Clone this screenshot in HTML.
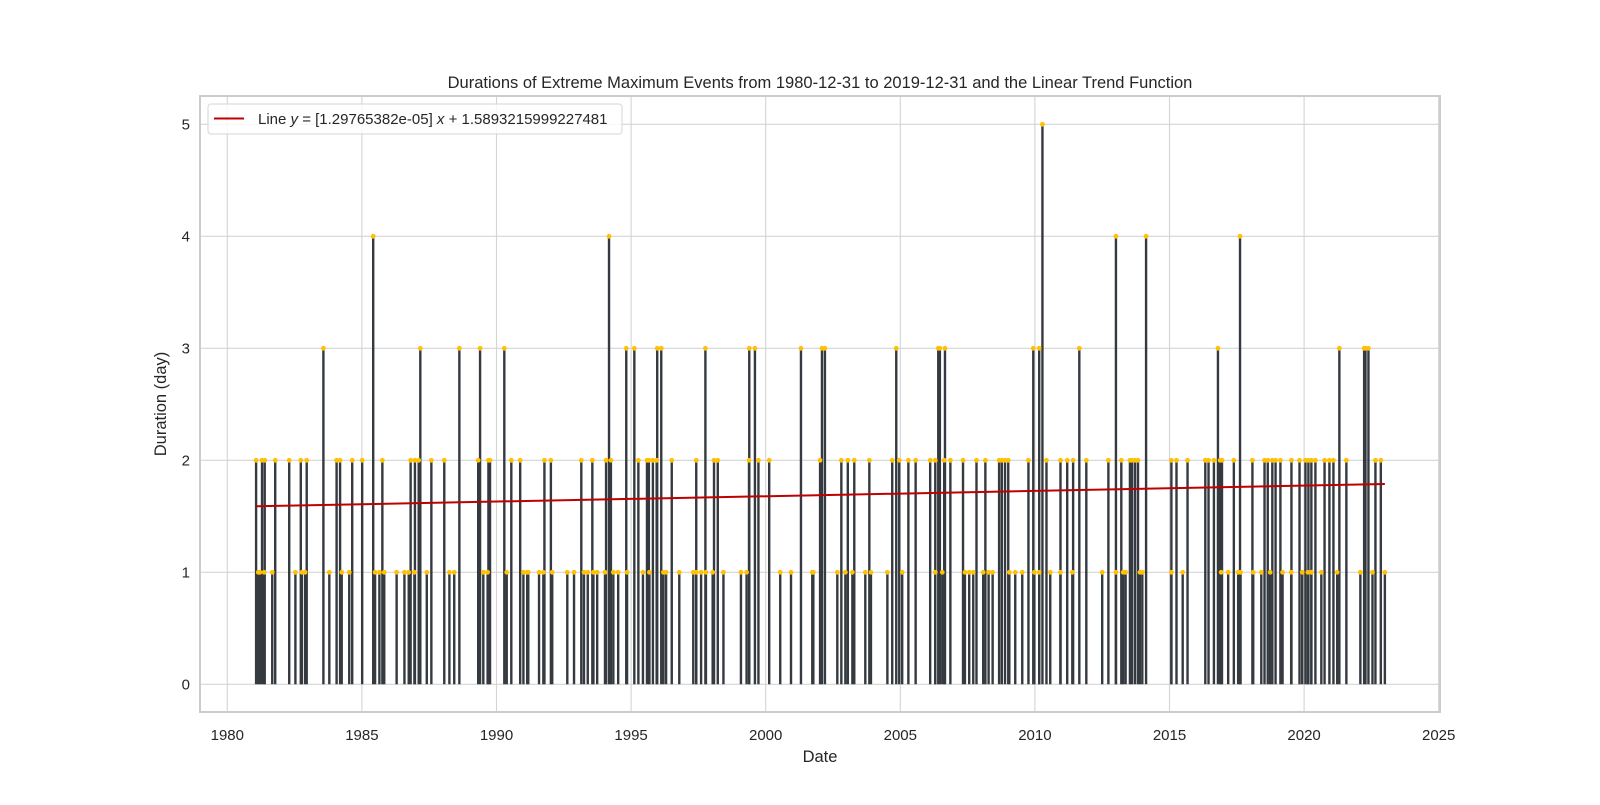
<!DOCTYPE html>
<html><head><meta charset="utf-8"><style>
html,body{margin:0;padding:0;background:#fff;}
svg text{font-family:"Liberation Sans",Arial,sans-serif;fill:#262626;}
</style></head><body>
<svg id="chart" width="1600" height="800" viewBox="0 0 1600 800" xmlns="http://www.w3.org/2000/svg">
<rect x="0" y="0" width="1600" height="800" fill="#fff"/>
<g id="grid"></g>
<g id="stems"></g>
<g id="trend"></g>
<rect x="200" y="96" width="1240" height="616" fill="none" stroke="#cccccc" stroke-width="2"/>
<g id="ticks"></g>
<text x="820" y="88" font-size="16.5" text-anchor="middle">Durations of Extreme Maximum Events from 1980-12-31 to 2019-12-31 and the Linear Trend Function</text>
<text x="820" y="762" font-size="16.5" text-anchor="middle">Date</text>
<text x="0" y="0" font-size="16.5" text-anchor="middle" transform="translate(166,404) rotate(-90)">Duration (day)</text>
<g>
<rect x="208" y="104" width="414" height="30" rx="3" fill="#fff" fill-opacity="0.8" stroke="#d6d6d6"/>
<line x1="214" y1="118.5" x2="244" y2="118.5" stroke="#c00000" stroke-width="2"/>
<text x="258" y="124" font-size="15">Line <tspan font-style="italic">y</tspan> = [1.29765382e-05] <tspan font-style="italic">x</tspan> + 1.5893215999227481</text>
</g>
</svg>
<script>
const yearTicks=[1980,1985,1990,1995,2000,2005,2010,2015,2020,2025];
const durTicks=[0,1,2,3,4,5];
const dates2=[1981.07,1981.29,1981.39,1981.78,1982.30,1982.73,1982.95,1984.06,1984.19,1984.64,1985.01,1985.76,1986.81,1986.97,1987.11,1987.58,1988.06,1989.32,1989.70,1989.76,1990.55,1990.88,
1991.78,1992.02,1993.15,1993.56,1994.07,1994.25,1995.27,1995.59,1995.66,1995.81,1995.95,1996.51,1997.42,1998.08,1998.22,1999.38,1999.73,2000.13,
2002.02,2002.81,2003.05,2003.29,2003.85,2004.70,2004.96,2005.30,2005.57,2006.11,2006.30,2006.63,2006.86,2007.33,2007.83,2008.16,2008.67,2008.77,2008.89,2009.01,2009.76,2010.43,2010.95,2011.20,2011.42,2011.91,
2012.73,2013.21,2013.53,2013.61,2013.72,2013.83,2015.07,2015.26,2015.67,2016.33,2016.45,2016.65,2016.88,2016.95,2017.39,2018.08,2018.53,2018.65,2018.82,2018.94,2019.12,2019.53,2019.83,2020.05,2020.16,2020.27,2020.42,2020.76,2020.94,2021.09,2021.57,2022.65,2022.85];
const dates1=[1981.15,1981.21,1981.37,1981.67,1982.53,1982.77,1982.89,1983.79,1984.25,1984.53,1985.49,1985.65,1985.83,1986.29,1986.58,1986.74,1986.95,1987.41,1988.25,1988.43,1989.51,1989.67,1990.38,1991.00,1991.14,
1991.18,1991.58,1991.74,1992.07,1992.63,1992.88,1993.25,1993.39,1993.60,1993.74,1994.03,1994.34,1994.52,1994.85,1995.44,1995.68,1996.20,1996.30,1996.79,1997.31,1997.42,1997.60,1997.78,1998.03,1998.43,1999.08,1999.29,2000.54,2000.94,2001.73,
2001.77,2002.66,2002.96,2003.22,2003.70,2003.91,2004.52,2005.07,2006.30,2006.56,2007.40,2007.56,2007.71,2008.08,2008.28,2008.43,2009.05,2009.27,2009.53,2009.98,2010.16,2010.57,2010.95,2011.39,
2012.50,2013.01,2013.28,2013.37,2013.90,2013.99,2015.07,2015.49,2016.92,2017.18,2017.55,2017.64,2018.11,2018.41,2018.74,2019.20,2019.52,2019.93,2020.14,2020.27,2020.64,2021.23,2022.09,2022.54,2023.00];
const dates3=[1983.57,1987.17,1988.62,1989.39,1990.29,1994.82,1995.12,1995.97,1996.12,1997.76,1999.39,1999.60,2001.31,2002.09,2002.20,2004.85,2006.41,2006.47,2006.66,2009.94,2010.16,2011.65,2016.80,2021.31,2022.23,2022.28,2022.39];
const dates4=[1985.42,1994.18,2013.01,2014.13,2017.62];
const dates5=[2010.28];
const trendSlope=1.29765382e-05;
const trendIntercept=1.5893215999227481;
const trendStart=1981.07, trendEnd=2023.00;

const NS='http://www.w3.org/2000/svg';
const X=yr=>227.3+(yr-1980)*26.92;
const Y=v=>684.3-v*112;
function mk(tag,attrs,parent){const e=document.createElementNS(NS,tag);for(const k in attrs)e.setAttribute(k,attrs[k]);parent.appendChild(e);return e;}
const grid=document.getElementById('grid'),ticks=document.getElementById('ticks'),stems=document.getElementById('stems'),trend=document.getElementById('trend');
yearTicks.forEach(t=>{
 const l=mk('line',{x1:X(t),x2:X(t),y1:96,y2:712,stroke:'#d4d4d4','stroke-width':1.1},grid);
 
 
 const tx=mk('text',{x:X(t),y:740,'font-size':15,'text-anchor':'middle'},ticks);tx.textContent=t;
 
 
});
durTicks.forEach(t=>{
 const l=mk('line',{x1:200,x2:1440,y1:Y(t),y2:Y(t),stroke:'#d4d4d4','stroke-width':1.1},grid);
 
 
 const tx=mk('text',{x:190,y:Y(t)+5,'font-size':15,'text-anchor':'end'},ticks);tx.textContent=t;
 
 
});
const series=[[dates1,1],[dates2,2],[dates3,3],[dates4,4],[dates5,5]];
series.forEach(([arr,v])=>arr.forEach(d=>{
 const s=mk('line',{x1:X(d),x2:X(d),y1:Y(0),y2:Y(v),stroke:'#343a40','stroke-width':2.4},stems);
 
 
}));
series.forEach(([arr,v])=>arr.forEach(d=>{
 const c=mk('circle',{cx:X(d),cy:Y(v),r:2.4,fill:'#ffc107'},stems);
 
 
}));
const f=yr=>trendSlope*(yr-trendStart)*365.25+trendIntercept;
const tl=mk('line',{x1:X(trendStart),y1:Y(f(trendStart)),x2:X(trendEnd),y2:Y(f(trendEnd)),stroke:'#c00000','stroke-width':2},trend);


</script>
</body></html>
